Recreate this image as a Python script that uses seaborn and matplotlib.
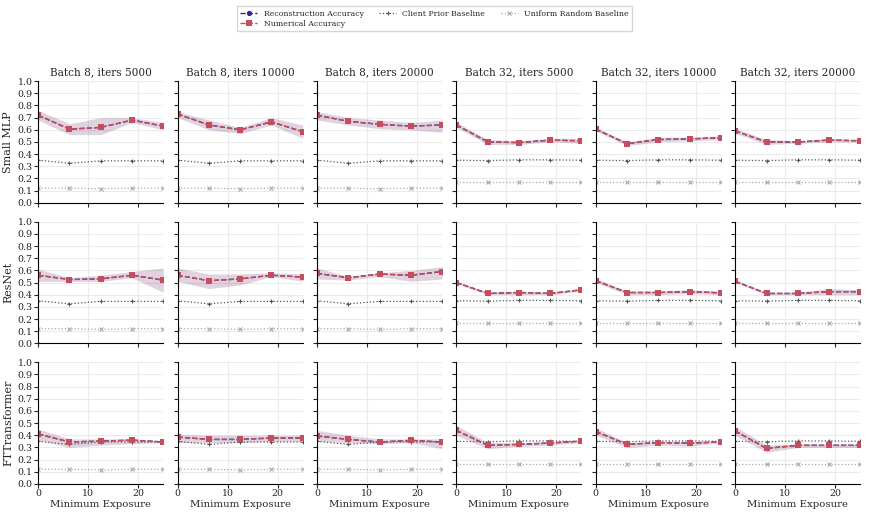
import numpy as np
import pandas as pd
import seaborn as sns
from matplotlib import pyplot as plt

# minimum exposure values on the x axis
exposure = [0, 6.25, 12.5, 18.75, 25]

models = ["Small MLP", "ResNet", "FTTransformer"]
batches = [8, 8, 8, 32, 32, 32]
iters = [5000, 10000, 20000, 5000, 10000, 20000]

# accuracy (reconstruction and numerical overlap), per model, per column
acc_small_mlp = [
    [0.72, 0.605, 0.62, 0.68, 0.63],
    [0.73, 0.64, 0.60, 0.665, 0.585],
    [0.72, 0.67, 0.645, 0.63, 0.64],
    [0.64, 0.50, 0.495, 0.515, 0.51],
    [0.605, 0.485, 0.52, 0.525, 0.535],
    [0.59, 0.50, 0.50, 0.515, 0.51],
]
acc_resnet = [
    [0.56, 0.525, 0.53, 0.56, 0.52],
    [0.56, 0.515, 0.53, 0.56, 0.545],
    [0.575, 0.54, 0.57, 0.56, 0.59],
    [0.50, 0.41, 0.418, 0.41, 0.44],
    [0.515, 0.418, 0.418, 0.425, 0.415],
    [0.51, 0.41, 0.41, 0.425, 0.425],
]
acc_ftt = [
    [0.41, 0.345, 0.352, 0.36, 0.345],
    [0.385, 0.366, 0.366, 0.377, 0.377],
    [0.394, 0.366, 0.344, 0.358, 0.344],
    [0.44, 0.317, 0.325, 0.336, 0.352],
    [0.43, 0.325, 0.34, 0.335, 0.345],
    [0.435, 0.292, 0.317, 0.317, 0.317],
]

# band lower / upper bounds
lo_small_mlp = [
    [0.68, 0.56, 0.56, 0.66, 0.60],
    [0.70, 0.60, 0.57, 0.64, 0.53],
    [0.68, 0.64, 0.61, 0.60, 0.58],
    [0.62, 0.48, 0.48, 0.50, 0.49],
    [0.59, 0.47, 0.50, 0.51, 0.52],
    [0.57, 0.48, 0.49, 0.50, 0.50],
]
hi_small_mlp = [
    [0.76, 0.65, 0.70, 0.70, 0.66],
    [0.75, 0.68, 0.62, 0.70, 0.64],
    [0.75, 0.70, 0.68, 0.66, 0.68],
    [0.66, 0.52, 0.51, 0.53, 0.53],
    [0.62, 0.50, 0.54, 0.54, 0.55],
    [0.61, 0.52, 0.51, 0.53, 0.52],
]
lo_resnet = [
    [0.51, 0.51, 0.51, 0.54, 0.42],
    [0.51, 0.45, 0.48, 0.55, 0.51],
    [0.53, 0.52, 0.55, 0.51, 0.53],
    [0.49, 0.40, 0.40, 0.40, 0.43],
    [0.50, 0.40, 0.40, 0.41, 0.40],
    [0.50, 0.40, 0.40, 0.40, 0.40],
]
hi_resnet = [
    [0.61, 0.54, 0.56, 0.59, 0.62],
    [0.62, 0.57, 0.57, 0.58, 0.57],
    [0.62, 0.55, 0.58, 0.60, 0.63],
    [0.51, 0.42, 0.43, 0.42, 0.45],
    [0.53, 0.43, 0.43, 0.44, 0.43],
    [0.52, 0.42, 0.42, 0.45, 0.44],
]
lo_ftt = [
    [0.36, 0.30, 0.32, 0.33, 0.34],
    [0.34, 0.34, 0.34, 0.35, 0.35],
    [0.35, 0.34, 0.33, 0.34, 0.29],
    [0.40, 0.29, 0.31, 0.32, 0.34],
    [0.40, 0.30, 0.32, 0.31, 0.34],
    [0.40, 0.26, 0.30, 0.30, 0.30],
]
hi_ftt = [
    [0.45, 0.37, 0.37, 0.37, 0.35],
    [0.41, 0.40, 0.40, 0.40, 0.40],
    [0.44, 0.40, 0.37, 0.37, 0.37],
    [0.48, 0.34, 0.34, 0.35, 0.36],
    [0.46, 0.34, 0.35, 0.35, 0.35],
    [0.47, 0.32, 0.33, 0.33, 0.33],
]

# baselines depend on batch size only
client_prior_b8 = [0.35, 0.325, 0.345, 0.345, 0.345]
client_prior_b32 = [0.35, 0.347, 0.353, 0.353, 0.35]
uniform_b8 = [0.12, 0.12, 0.115, 0.12, 0.12]
uniform_b32 = [0.167, 0.167, 0.167, 0.167, 0.167]

acc = [acc_small_mlp, acc_resnet, acc_ftt]
lo = [lo_small_mlp, lo_resnet, lo_ftt]
hi = [hi_small_mlp, hi_resnet, hi_ftt]

sns.set_theme(style="whitegrid")
plt.rcParams['font.family'] = ['DejaVu Serif']
plt.rcParams['grid.color'] = '#ebebeb'
plt.rcParams['grid.linewidth'] = 0.8

recon_color = "#2b2b8c"
num_color = "#c44e5e"
prior_color = "#555555"
uniform_color = "#aaaaaa"

fig, axes = plt.subplots(3, 6, sharex=True, sharey=True)
fig.set_size_inches(8.69, 5.17)
fig.subplots_adjust(left=0.044, right=0.99, top=0.843, bottom=0.064,
                    wspace=0.115, hspace=0.156)

for r, model in enumerate(models):
    for c in range(6):
        ax = axes[r, c]
        b32 = batches[c] == 32
        df = pd.DataFrame({
            'x': exposure,
            'acc': acc[r][c],
            'prior': client_prior_b32 if b32 else client_prior_b8,
            'uniform': uniform_b32 if b32 else uniform_b8,
        })
        ax.fill_between(exposure, lo[r][c], hi[r][c], color=recon_color,
                        alpha=0.12, lw=0)
        ax.fill_between(exposure, lo[r][c], hi[r][c], color=num_color,
                        alpha=0.12, lw=0)
        sns.lineplot(df, x='x', y='uniform', ax=ax, color=uniform_color, ls=':',
                     marker='x', markersize=2.5, lw=0.9, markeredgecolor=uniform_color,
                     markeredgewidth=0.8, label="Uniform Random Baseline")
        sns.lineplot(df, x='x', y='prior', ax=ax, color=prior_color, ls=':',
                     marker='+', markersize=3.5, lw=0.9, markeredgecolor=prior_color,
                     markeredgewidth=0.8, label="Client Prior Baseline")
        sns.lineplot(df, x='x', y='acc', ax=ax, color=recon_color, ls='--',
                     marker='o', markersize=3, lw=1, markeredgecolor=recon_color,
                     label="Reconstruction Accuracy")
        sns.lineplot(df, x='x', y='acc', ax=ax, color=num_color, ls='--',
                     marker='s', markersize=4, lw=1, markeredgewidth=0,
                     label="Numerical Accuracy")
        ax.get_legend().remove()
        ax.set_xlim(0, 25)
        ax.set_ylim(0, 1)
        ax.set_xticks([0, 10, 20])
        ax.set_yticks(np.arange(0, 1.01, 0.1))
        ax.yaxis.set_major_formatter(plt.FormatStrFormatter('%.1f'))
        ax.tick_params(axis='both', labelsize=6.8, length=3, width=0.8,
                       pad=1, left=True, bottom=True)
        ax.set_xlabel("Minimum Exposure" if r == 2 else "", fontsize=7.3, labelpad=1)
        ax.set_ylabel(model if c == 0 else "", fontsize=8, labelpad=3)
        if r == 0:
            ax.set_title(f"Batch {batches[c]}, iters {iters[c]}", fontsize=7.6, pad=4)
        for s in ['top', 'right']:
            ax.spines[s].set_visible(False)
        for s in ['left', 'bottom']:
            ax.spines[s].set_color('black')
            ax.spines[s].set_linewidth(0.8)

handles, labels = axes[0, 0].get_legend_handles_labels()
order = [2, 3, 1, 0]
fig.legend([handles[i] for i in order], [labels[i] for i in order],
           loc='upper center', bbox_to_anchor=(0.5, 0.995), ncol=3,
           fontsize=5.6, frameon=True, fancybox=False, edgecolor='#cccccc',
           handlelength=2.2, columnspacing=2.0, borderpad=0.4, labelspacing=0.3)

plt.savefig("out.png", dpi=100)
